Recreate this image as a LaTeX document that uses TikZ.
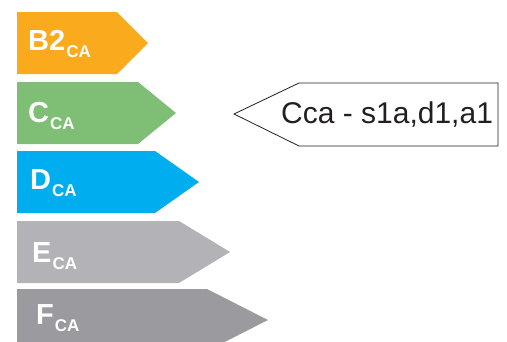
\documentclass[tikz,border=0pt]{standalone}
\usepackage{fontspec}
\setmainfont{Liberation Sans}

\definecolor{clsBtwo}{RGB}{249,171,29}
\definecolor{clsC}{RGB}{127,191,117}
\definecolor{clsD}{RGB}{0,174,239}
\definecolor{clsE}{RGB}{179,178,183}
\definecolor{clsF}{RGB}{155,154,159}
\definecolor{inkdark}{RGB}{35,31,32}

\begin{document}
\begin{tikzpicture}[x=1pt, y=-1pt,
    classlabel/.style={anchor=base west, inner sep=0pt, text=white,
        font=\bfseries\fontsize{29}{29}\selectfont},
    tagbox/.style={draw=inkdark, line width=0.8pt, fill=white}]

    \clip (0,0) rectangle (507,341);

    % Class arrows: top edge, end of body, tip, colour, letter, text x, baseline
    \foreach \ytop/\body/\tip/\col/\cls/\tx/\bl in {
        12/117/148/clsBtwo/B2/28/50,
        82/138/176/clsC/C/28/122,
        151/155/199/clsD/D/30/189,
        221/179/230/clsE/E/32/262,
        289/207/268/clsF/F/36/324} {
        \fill[\col] (17,\ytop) -- (\body,\ytop) -- (\tip,\ytop+31)
            -- (\body,\ytop+62) -- (17,\ytop+62) -- cycle;
        \node[classlabel] (lbl\cls) at (\tx,\bl)
            {\cls\kern1pt\raisebox{-7pt}{\fontsize{17}{17}\selectfont CA}};
    }

    % Tag pointing at the C class
    \draw[tagbox] (234,114) -- (299,83) -- (498,83) -- (498,146)
        -- (299,146) -- cycle;
    \node[anchor=base west, inner sep=0pt, text=inkdark,
        font=\fontsize{30}{30}\selectfont] (tag) at (281,123) {Cca - s1a,d1,a1};
\end{tikzpicture}
\end{document}
